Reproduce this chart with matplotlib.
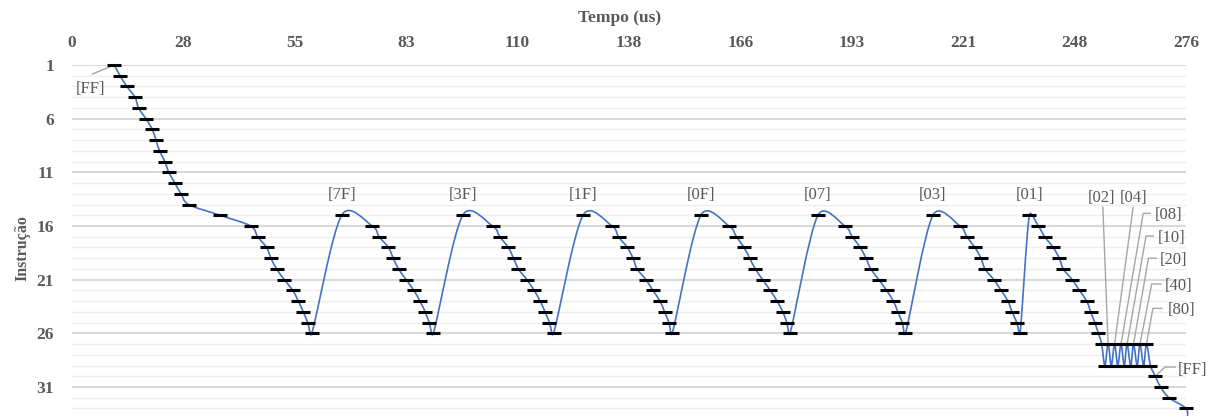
import numpy as np
import matplotlib.pyplot as plt
from matplotlib.path import Path
from matplotlib.patches import PathPatch

plt.rcParams['font.family'] = ['Liberation Serif', 'DejaVu Serif']

# entry: instructions 1-14 (register = FF)
entry_instr = [1, 2, 3, 4, 5, 6, 7, 8, 9, 10, 11, 12, 13, 14]
entry_tempo = [10.5, 11.9, 13.6, 15.6, 16.5, 18.3, 19.9, 20.8, 21.7, 23.0, 24.0, 25.5, 27.0, 28.9]

# loop body, instructions 15-26, one pass per register value
loop_instr = [15, 16, 17, 18, 19, 20, 21, 22, 23, 24, 25, 26]
loop_names = ['', '[7F]', '[3F]', '[1F]', '[0F]', '[07]', '[03]', '[01]']
loop_tempo = [
    [36.7, 44.3, 46.0, 48.2, 49.3, 50.7, 52.6, 54.7, 56.1, 57.3, 58.4, 59.4],
    [66.8, 74.4, 76.1, 78.4, 79.6, 80.9, 82.8, 84.7, 86.2, 87.5, 88.5, 89.5],
    [96.8, 104.2, 106.0, 108.1, 109.4, 110.6, 112.7, 114.5, 116.0, 117.2, 118.3, 119.3],
    [126.6, 133.8, 135.4, 137.6, 139.0, 140.0, 142.2, 143.9, 145.7, 146.8, 147.9, 148.7],
    [155.8, 162.8, 164.6, 166.5, 167.9, 169.3, 171.1, 173.0, 174.7, 176.1, 177.1, 177.9],
    [184.8, 191.5, 193.3, 195.3, 196.7, 197.9, 199.9, 201.8, 203.5, 204.6, 205.7, 206.5],
    [213.3, 220.0, 221.7, 223.7, 225.2, 226.2, 228.4, 230.2, 231.9, 232.9, 234.1, 234.9],
    [237.2, 239.4, 241.0, 243.1, 244.6, 245.6, 247.8, 249.6, 251.4, 252.4, 253.4, 254.3],
]

# shift loop between instructions 27 and 29
zig_instr = [27, 29, 27, 29, 27, 29, 27, 29, 27, 29, 27, 29, 27, 29, 27, 29]
zig_tempo = [255.1, 255.9, 256.7, 257.5, 258.3, 259.1, 259.9, 260.7,
             261.4, 262.3, 263.0, 263.9, 264.6, 265.5, 266.2, 267.2]
zig_names = ['[02]', '[04]', '[08]', '[10]', '[20]', '[40]', '[80]']

# exit
tail_instr = [30, 31, 32, 33, 34]
tail_tempo = [268.4, 269.7, 271.8, 276.0, 276.3]

tempo = entry_tempo[:]
instr = entry_instr[:]
for block in loop_tempo:
    tempo += block
    instr += loop_instr
tempo += zig_tempo + tail_tempo
instr += zig_instr + tail_instr


def smooth_path(x, y, sx, sy, limit=0.5):
    # Catmull-Rom bezier; each handle kept shorter than limit * its chord
    # (lengths measured on screen) so short steps do not overshoot
    pts = np.column_stack([x, y]).astype(float)
    n = len(pts)

    def plen(v):
        return np.hypot(v[0] * sx, v[1] * sy)

    out_h = []
    in_h = []
    for i in range(n):
        p0 = pts[max(i - 1, 0)]
        p2 = pts[min(i + 1, n - 1)]
        h = (p2 - p0) / 6
        hl = plen(h)
        for chord, sign, store in ((plen(p2 - pts[i]), 1, out_h),
                                   (plen(pts[i] - p0), -1, in_h)):
            k = 1.0
            if hl > limit * chord and hl > 0:
                k = limit * chord / hl
            store.append(pts[i] + sign * h * k)

    verts = [pts[0]]
    codes = [Path.MOVETO]
    for i in range(n - 1):
        verts += [out_h[i], in_h[i + 1], pts[i + 1]]
        codes += [Path.CURVE4] * 3
    return Path(verts, codes)


fig = plt.figure(figsize=(12.13, 4.16), dpi=100)
ax = fig.add_axes([72 / 1213, 0, 1114 / 1213, 1 - 65 / 416])
ax.set_xlim(0, 276)
ax.set_ylim(33.7, 1)

# pixels per data unit, for the smoothing
x0, y0 = ax.transData.transform((0, 1))
x1, y1 = ax.transData.transform((276, 31))
sx = abs(x1 - x0) / 276
sy = abs(y1 - y0) / 30

ax.add_patch(PathPatch(smooth_path(tempo, instr, sx, sy), facecolor='none',
                       edgecolor='#4472C4', lw=1.2, zorder=2, clip_on=False))
ax.plot(tempo, instr, linestyle='none', marker='_', ms=10, mew=2.2,
        color='black', zorder=3, clip_on=False)

# axis on top, no spines
ax.xaxis.tick_top()
ax.set_xticks(np.linspace(0, 276, 11))
ax.set_xticklabels([f"{v:.0f}" for v in np.linspace(0, 276, 11)])
ax.set_yticks([1, 6, 11, 16, 21, 26, 31])
ax.set_yticks(range(1, 34), minor=True)
ax.tick_params(axis='both', which='both', length=0, labelsize=12.5,
               labelcolor='#595959')
ax.tick_params(axis='x', pad=10)
ax.tick_params(axis='y', pad=13)
for lbl in ax.get_xticklabels() + ax.get_yticklabels():
    lbl.set_fontweight('bold')
ax.grid(which='major', axis='y', color='#d9d9d9', lw=1.5)
ax.grid(which='minor', axis='y', color='#eeeeee', lw=1.0)
ax.set_axisbelow(True)
for s in ax.spines.values():
    s.set_visible(False)

fig.text(620 / 1213, 1 - 18 / 416, 'Tempo (us)', ha='center', va='center',
         fontsize=12.5, fontweight='bold', color='#595959')
fig.text(22 / 1213, 1 - 248 / 416, 'Instrução', ha='center', va='center',
         rotation=90, fontsize=11.5, fontweight='bold', color='#595959')

lab_kw = dict(fontsize=12, color='#595959', ha='center', va='center')
lead_kw = dict(color='#a6a6a6', lw=1.0, zorder=1, clip_on=False)

# [FF] at the first instruction
ax.text(4.5, 3.25, '[FF]', **lab_kw)
ax.plot([entry_tempo[0], 5.0], [entry_instr[0], 1.85], **lead_kw)

# loop pass labels above instruction 15
for name, block in zip(loop_names, loop_tempo):
    if name:
        ax.text(block[0], 13.1, name, **lab_kw)

# shift labels on the instruction 27 points
tops = zig_tempo[2::2]
ax.text(255.1, 13.4, zig_names[0], **lab_kw)
ax.plot([tops[0], 255.4], [27, 14.25], **lead_kw)
ax.text(262.9, 13.4, zig_names[1], **lab_kw)
ax.plot([tops[1], 262.9], [27, 14.25], **lead_kw)
side = [(265.4, 267.1, 14.82, 271.7, 14.98),
        (266.1, 267.9, 16.93, 272.5, 17.12),
        (266.7, 268.6, 19.0, 272.9, 19.17),
        (267.5, 269.8, 21.4, 274.2, 21.6),
        (267.8, 270.0, 23.67, 275.0, 23.83)]
for name, t, (ex, ee, ey, tx, ty) in zip(zig_names[2:], tops[2:], side):
    ax.plot([t, ex, ee], [27, ey, ey], **lead_kw)
    ax.text(tx, ty, name, **lab_kw)

# [FF] on the exit
ax.plot([tail_tempo[0], 270.8, 273.3], [tail_instr[0], 29.14, 29.14], **lead_kw)
ax.text(277.5, 29.37, '[FF]', **lab_kw)

plt.savefig('out.png', dpi=100)
